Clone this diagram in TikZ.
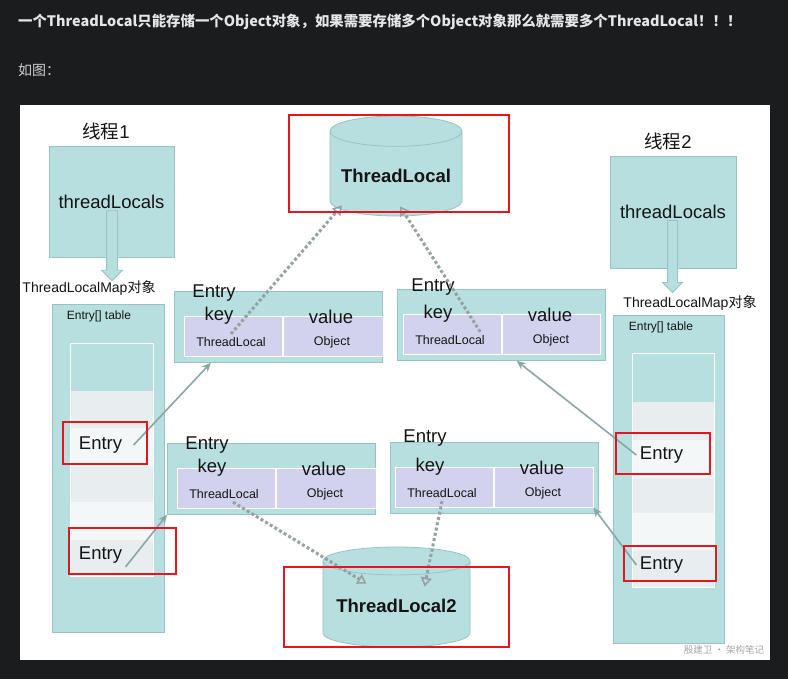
\documentclass[tikz,border=0pt]{standalone}
\usepackage{fontspec}
\setmainfont{Liberation Sans}
\newfontfamily\cjk{Noto Sans CJK SC}
\usetikzlibrary{shapes.geometric,shapes.arrows,arrows.meta}

\definecolor{bgdark}{RGB}{27,28,30}
\definecolor{hdr}{RGB}{230,230,230}
\definecolor{tealfill}{RGB}{183,223,224}
\definecolor{tealdraw}{RGB}{150,196,198}
\definecolor{lavender}{RGB}{210,210,238}
\definecolor{slotgray}{RGB}{232,238,240}
\definecolor{slotwhite}{RGB}{243,247,248}
\definecolor{markred}{RGB}{230,22,30}
\definecolor{linkgray}{RGB}{140,165,166}
\definecolor{dotgray}{RGB}{150,161,163}
\definecolor{txt}{RGB}{20,20,20}

\tikzset{
  tbox/.style={draw=tealdraw, fill=tealfill, line width=0.8pt},
  kvcell/.style={draw=white, fill=lavender, line width=0.8pt, minimum height=40pt, inner sep=0pt},
  big/.style={font=\fontsize{18.5}{20}\selectfont, text=txt},
  small/.style={font=\fontsize{12.5}{14}\selectfont, text=txt},
  link/.style={draw=linkgray, line width=1.6pt, -{Stealth[length=9pt,width=8pt]}},
  reflink/.style={draw=dotgray, line width=3pt, dash pattern=on 3pt off 2.4pt,
    -{Triangle[open,length=9pt,width=11pt,line width=1.6pt]}},
  redbox/.style={draw=markred, line width=2.6pt},
  blockarrow/.style={single arrow, draw=tealdraw, fill=tealfill, line width=0.8pt,
    single arrow head extend=5pt, rotate=-90},
  store/.style={cylinder, shape border rotate=90, anchor=shape center, draw=tealdraw, fill=tealfill,
    line width=0.8pt, font=\fontsize{18.5}{20}\selectfont\bfseries, text=txt},
}

% Entry box: name, left, top, inset of key/value row, row width, dy of "Entry"
\newcommand{\entrybox}[6]{%
  \node[tbox, anchor=north west, minimum width=208pt, minimum height=71pt] (#1) at (#2,#3) {};
  \node[kvcell, anchor=north west, minimum width=98pt] (#1k) at (#2+#4,#3+25) {};
  \node[kvcell, anchor=north west, minimum width=#5pt-98pt] (#1v) at (#1k.north east) {};
  \node[big] at (#2+#4+30,#3+#6) {Entry};
  \node[big] at (#2+#4+35,#3+25) {key};
  \node[big] at (#2+#4+147,#3+26) {value};
  \node[small] (#1tl) at (#2+#4+47,#3+51) {ThreadLocal};
  \node[small] at (#2+#4+148,#3+51) {Object};
}

\begin{document}
\begin{tikzpicture}[x=1pt, y=-1pt]
  \useasboundingbox (0,0) rectangle (788,679);
  \fill[bgdark] (0,0) rectangle (788,679);
  \fill[white] (20,105) rectangle (770,660);

  \node[anchor=west, inner sep=0pt, text=hdr, font=\cjk\bfseries\fontsize{14.4}{16}\selectfont] (title) at (18,22)
    {一个ThreadLocal只能存储一个Object对象，如果需要存储多个Object对象那么就需要多个ThreadLocal！！！};
  \node[anchor=west, inner sep=0pt, text=hdr!90!black, font=\cjk\fontsize{14}{16}\selectfont] (fig) at (18,70) {如图：};

  % thread 1
  \node[big] (name1) at (106,131) {\cjk 线程\rmfamily 1};
  \node[tbox, big, minimum width=125pt, minimum height=111pt] (th1) at (111.5,201.5) {threadLocals};
  \node[blockarrow, minimum height=70pt, inner sep=5pt] (arr1) at (112,243) {};
  \node[font=\fontsize{14}{16}\selectfont, text=txt] (map1) at (89,288) {ThreadLocalMap{\cjk 对象}};
  \node[tbox, minimum width=112pt, minimum height=328pt] (tab1) at (108,468) {};
  \node[font=\fontsize{12}{14}\selectfont, text=txt] at (99,316) {Entry[] table};
  \foreach \ya/\yb/\c in {343/391/tealfill, 391/428/slotgray, 428/467/slotwhite,
                          467/502/slotgray, 502/540/slotwhite, 540/576/slotgray}
    \fill[\c] (70,\ya) rectangle (153,\yb);
  \draw[white, line width=0.8pt] (70,343) rectangle (153,576);
  \node[big] (e1a) at (100.5,445) {Entry};
  \node[big] (e1b) at (100.5,555) {Entry};

  % thread 2
  \node[big] (name2) at (668,141) {\cjk 线程\rmfamily 2};
  \node[tbox, big, minimum width=126pt, minimum height=112pt] (th2) at (673,212) {threadLocals};
  \node[blockarrow, minimum height=72pt, inner sep=4.5pt] (arr2) at (672.5,254) {};
  \node[font=\fontsize{14}{16}\selectfont, text=txt] (map2) at (690,303) {ThreadLocalMap{\cjk 对象}};
  \node[tbox, minimum width=111pt, minimum height=328pt] (tab2) at (668.5,479) {};
  \node[font=\fontsize{12}{14}\selectfont, text=txt] at (661,327) {Entry[] table};
  \foreach \ya/\yb/\c in {353/402/tealfill, 402/440/slotgray, 440/478/slotwhite,
                          478/513/slotgray, 513/550/slotwhite, 550/587/slotgray}
    \fill[\c] (632,\ya) rectangle (714,\yb);
  \draw[white, line width=0.8pt] (632,353) rectangle (714,587);
  \node[big] (e2a) at (661.5,455) {Entry};
  \node[big] (e2b) at (661.5,565) {Entry};

  % entries
  \entrybox{A}{174}{291}{10}{198}{2}
  \entrybox{B}{397}{289}{6}{196}{-2}
  \entrybox{C}{167}{443}{10}{198}{2}
  \entrybox{D}{390}{442}{5}{197}{-4}

  % the two ThreadLocal objects
  \node[store, minimum width=132pt, minimum height=100pt, aspect=0.26] (tl1) at (396,166) {ThreadLocal};
  \node[store, minimum width=147pt, minimum height=100pt, aspect=0.22] (tl2) at (396.5,597) {ThreadLocal2};

  % references
  \draw[link] ([xshift=8pt]e1a.east) -- (A.208);
  \draw[link] (e1b.south east) -- (C.south west);
  \draw[link] (e2a.west) -- (B.293);
  \draw[link] (e2b.west) -- (Dv.south east);
  \draw[reflink] (Atl.north) -- ([xshift=-54pt,yshift=11pt]tl1.south);
  \draw[reflink] ([xshift=-8pt]Btl.north east) -- ([xshift=4pt,yshift=10pt]tl1.south);
  \draw[reflink] ([xshift=9pt]Ctl.south) -- ([xshift=-30pt,yshift=-37pt]tl2.north);
  \draw[reflink] (Dtl.south) -- ([xshift=28pt,yshift=-40pt]tl2.north);

  % marks
  \draw[redbox] (289,115) rectangle (509,212);
  \draw[redbox] (284,567) rectangle (509,647);
  \draw[redbox] (63,422) rectangle (147,464);
  \draw[redbox] (69,528) rectangle (176,574);
  \draw[redbox] (616,433) rectangle (710,474);
  \draw[redbox] (624,546) rectangle (716,581);

  \node[text=black!35, font=\cjk\fontsize{9.5}{11}\selectfont] (mark) at (724,650) {殷建卫 · 架构笔记};
\end{tikzpicture}
\end{document}
